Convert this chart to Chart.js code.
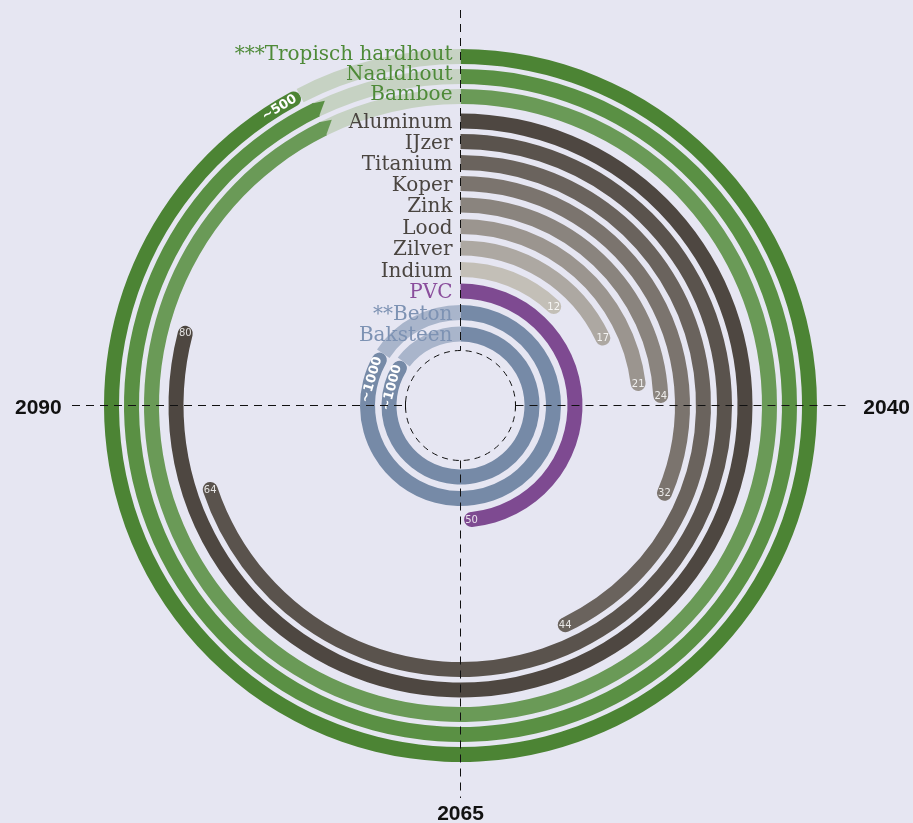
<!DOCTYPE html>
<html>
<head>
<meta charset="utf-8">
<script src="https://cdn.jsdelivr.net/npm/chart.js@4.4.1/dist/chart.umd.min.js"></script>
<style>
  html, body { margin: 0; padding: 0; background: #e6e6f2; }
  #wrap { width: 913px; height: 823px; position: relative; }
</style>
</head>
<body>
<div id="wrap"><canvas id="c"></canvas></div>
<script>
// ---------------- DATA ----------------
const materials = ['***Tropisch hardhout', 'Naaldhout', 'Bamboe', 'Aluminum', 'IJzer', 'Titanium', 'Koper', 'Zink', 'Lood', 'Zilver', 'Indium', 'PVC', '**Beton', 'Baksteen'];
// printed remaining-years label at the end of each arc
const yearLabels = ['~500', '', '', '80', '64', '44', '32', '24', '21', '17', '12', '50', '~1000', '~1000'];
// drawn (solid) part of each arc on the 100-year dial
const solidYears = [92.4, 92.8, 92.7, 79.5, 70.3, 43.4, 32.0, 24.8, 23.7, 18.7, 12.9, 49.5, 84.4, 85.4];
// arcs whose real value runs past the dial (rest of the circle drawn faded)
const pastDial = [true, true, true, false, false, false, false, false, false, false, false, false, true, true];
// how each arc ends
const endStyle = ['pill', 'arrow', 'arrow', 'cap', 'cap', 'cap', 'cap', 'cap', 'cap', 'cap', 'cap', 'cap', 'pill', 'pill'];
const dialYears = 100;
const tickYears = [25, 50, 75];
const tickLabels = ['2040', '2065', '2090'];

// ---------------- STYLE ----------------
const solidColors = ['#4c8434', '#5a9044', '#6a9a57', '#4e4741', '#5a534d', '#6a635d', '#7b746e', '#8a847e', '#9b958f', '#ada8a2', '#c3bfb7', '#7e4a91', '#768aa7', '#768aa7'];
const fadedColors = ['#c6d2c3', '#c6d2c3', '#c6d2c3', null, null, null, null, null, null, null, null, null, '#a9b5cb', '#a9b5cb'];
const labelColors = ['#4e8a38', '#4e8a38', '#4e8a38', '#4a4540', '#4a4540', '#4a4540', '#4a4540', '#4a4540', '#4a4540', '#4a4540', '#4a4540', '#8a4e9c', '#7d92b3', '#7d92b3'];
const RING = 15;
const GAPS = [5, 5, 9.5, 5.5, 6, 6, 6.5, 6.5, 6.5, 6.5, 6.5, 6.5, 6.5];

const datasets = [];
const ringIndex = [];
materials.forEach((m, i) => {
  const solid = solidYears[i];
  const faded = pastDial[i] ? dialYears - solid : 0;
  const rest = dialYears - solid - faded;
  const cap = (endStyle[i] === 'cap' || endStyle[i] === 'pill');
  ringIndex.push(datasets.length);
  datasets.push({
    label: m,
    data: [solid, faded, rest],
    backgroundColor: [solidColors[i], fadedColors[i] || 'rgba(0,0,0,0)', 'rgba(0,0,0,0)'],
    borderWidth: 0,
    hoverBorderWidth: 0,
    hoverOffset: 0,
    offset: 0,
    weight: RING,
    borderRadius: (ctx) => (ctx.dataIndex === 0 && cap) ? { outerStart: 0, innerStart: 0, outerEnd: RING / 2, innerEnd: RING / 2 } : 0
  });
  if (i < materials.length - 1) {
    datasets.push({
      label: 'gap',
      data: [dialYears],
      backgroundColor: ['rgba(0,0,0,0)'],
      borderWidth: 0, hoverBorderWidth: 0, hoverOffset: 0, offset: 0,
      weight: GAPS[i]
    });
  }
});

const CX = 460.5, CY = 405.5, OUTER = 356.5, INNER = 64, CORE = 55;
const W = 913, H = 823;

function polar(x, y, r, a) { return [x + r * Math.cos(a), y + r * Math.sin(a)]; }

const overlay = {
  id: 'overlay',
  afterDatasetsDraw(chart) {
    const ctx = chart.ctx;
    ctx.save();
    let cx = CX, cy = CY;
    ringIndex.forEach((dsi, i) => {
      const arc = chart.getDatasetMeta(dsi).data[0];
      const p = arc.getProps(['x', 'y', 'startAngle', 'endAngle', 'innerRadius', 'outerRadius'], true);
      cx = p.x; cy = p.y;
      const t = p.outerRadius - p.innerRadius;
      const rm = (p.outerRadius + p.innerRadius) / 2;
      if (endStyle[i] === 'arrow') {
        const a = p.endAngle;
        const p1 = polar(p.x, p.y, p.outerRadius, a - 0.004);
        const p2 = polar(p.x, p.y, p.outerRadius - 0.2 * t, a + 11 / rm);
        const p3 = polar(p.x, p.y, p.innerRadius, a - 0.004);
        ctx.beginPath();
        ctx.moveTo(p1[0], p1[1]);
        ctx.lineTo(p2[0], p2[1]);
        ctx.lineTo(p3[0], p3[1]);
        ctx.closePath();
        ctx.fillStyle = solidColors[i];
        ctx.fill();
      } else if (endStyle[i] === 'cap' && yearLabels[i]) {
        const a = p.endAngle - (t / 2) / rm;
        const q = polar(p.x, p.y, rm, a);
        ctx.font = "10px 'DejaVu Sans'";
        ctx.fillStyle = 'rgba(255,255,255,0.85)';
        ctx.textAlign = 'center';
        ctx.textBaseline = 'middle';
        ctx.fillText(yearLabels[i], q[0], q[1] + 0.5);
      } else if (endStyle[i] === 'pill' && yearLabels[i]) {
        ctx.font = "bold 13px 'DejaVu Sans'";
        const w = ctx.measureText(yearLabels[i]).width;
        const a = p.endAngle - (w / 2 + 5) / rm;
        const q = polar(p.x, p.y, rm, a);
        ctx.save();
        ctx.translate(q[0], q[1]);
        ctx.rotate(a + Math.PI / 2);
        ctx.fillStyle = '#ffffff';
        ctx.textAlign = 'center';
        ctx.textBaseline = 'middle';
        ctx.fillText(yearLabels[i], 0, 0.5);
        ctx.restore();
      }
    });

    // axes
    ctx.strokeStyle = '#111';
    ctx.lineWidth = 1;
    ctx.setLineDash([8, 6]);
    ctx.beginPath();
    ctx.moveTo(cx, 10); ctx.lineTo(cx, cy - CORE);
    ctx.moveTo(cx, cy + CORE); ctx.lineTo(cx, 798);
    ctx.moveTo(72, cy); ctx.lineTo(cx - CORE, cy);
    ctx.moveTo(cx + CORE, cy); ctx.lineTo(848, cy);
    ctx.stroke();
    ctx.setLineDash([6, 5]);
    ctx.beginPath();
    ctx.arc(cx, cy, CORE, 0, Math.PI * 2);
    ctx.stroke();
    ctx.setLineDash([]);
    ctx.beginPath();
    ctx.moveTo(cx - CORE, cy - 4); ctx.lineTo(cx - CORE, cy + 4);
    ctx.moveTo(cx + CORE, cy - 4); ctx.lineTo(cx + CORE, cy + 4);
    ctx.stroke();

    // tick year labels
    ctx.font = "bold 21px 'Liberation Sans'";
    ctx.fillStyle = '#111';
    ctx.textBaseline = 'alphabetic';
    tickYears.forEach((y, k) => {
      const a = -Math.PI / 2 + (y / dialYears) * Math.PI * 2;
      const dx = Math.cos(a);
      if (Math.abs(dx) > 0.5) {
        ctx.textAlign = dx > 0 ? 'right' : 'left';
        ctx.fillText(tickLabels[k], dx > 0 ? W - 3 : 15, cy + 8);
      } else {
        ctx.textAlign = 'center';
        ctx.fillText(tickLabels[k], cx, H - 3);
      }
    });

    // material labels
    ctx.font = "20px 'DejaVu Serif'";
    ctx.textAlign = 'right';
    ctx.textBaseline = 'alphabetic';
    ringIndex.forEach((dsi, i) => {
      const arc = chart.getDatasetMeta(dsi).data[0];
      const rm = (arc.outerRadius + arc.innerRadius) / 2;
      const off = i < 3 ? 3.5 : 7;
      ctx.fillStyle = labelColors[i];
      ctx.fillText(materials[i], cx - 8, cy - rm + off);
    });
    ctx.restore();
  }
};

new Chart(document.getElementById('c'), {
  type: 'doughnut',
  data: { labels: ['solid', 'faded', 'rest'], datasets },
  options: {
    responsive: true,
    maintainAspectRatio: false,
    animation: false,
    events: [],
    cutout: INNER,
    spacing: 0,
    layout: { padding: { left: CX - OUTER, right: W - CX - OUTER, top: CY - OUTER, bottom: H - CY - OUTER } },
    plugins: { legend: { display: false }, tooltip: { enabled: false } }
  },
  plugins: [overlay]
});
</script>
</body>
</html>
